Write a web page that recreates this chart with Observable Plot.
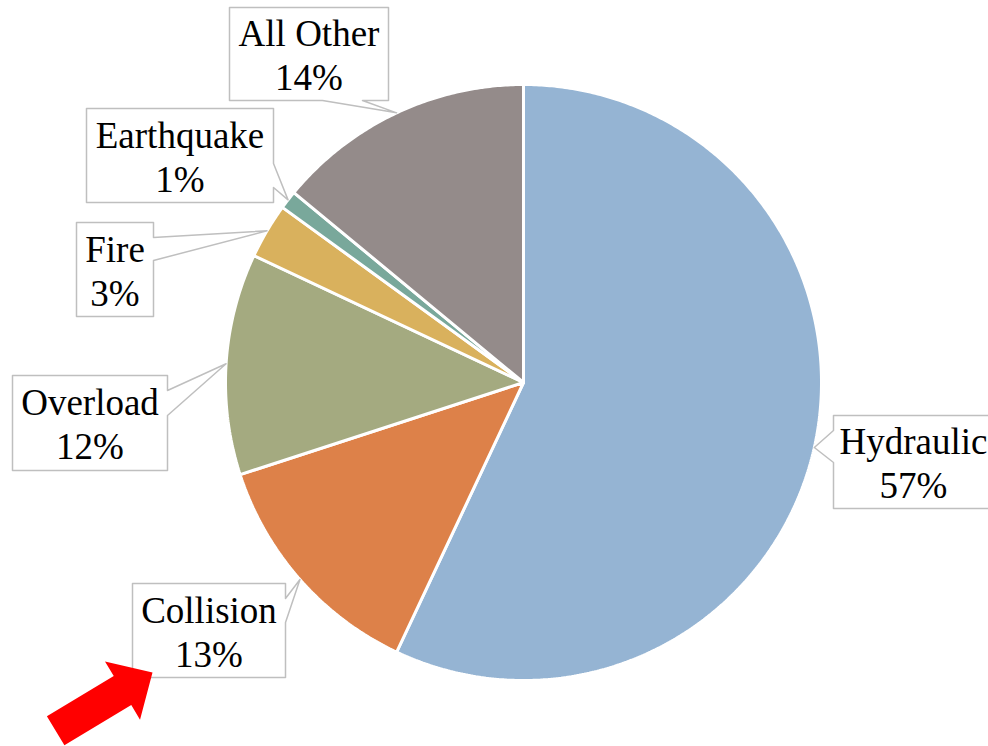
<!DOCTYPE html>
<html><head><meta charset="utf-8">
<script src="https://cdn.jsdelivr.net/npm/d3@7"></script>
<script src="https://cdn.jsdelivr.net/npm/@observablehq/plot@0.6"></script>
<style>html,body{margin:0;padding:0;background:#fff;overflow:hidden}</style>
</head><body><div id="chart"></div>
<script>
// ---- data ----
const categories = ["Hydraulic", "Collision", "Overload", "Fire", "Earthquake", "All Other"];
const values = [57, 13, 12, 3, 1, 14];
const colors = ["#95B4D3", "#DD8149", "#A4AA80", "#D9B15D", "#79A89B", "#948B8A"];

// ---- layout ----
const W = 988, H = 746;
const cx = 523, cy = 382, R = 298;
const labelBoxes = [
  {x0: 833, y0: 415, x1: 1000, y1: 508, side: "left", a: 430, b: 462},
  {x0: 132, y0: 583, x1: 285, y1: 677, side: "right", a: 598, b: 622},
  {x0: 12, y0: 375, x1: 167, y1: 470, side: "right", a: 390, b: 415},
  {x0: 76, y0: 222, x1: 153, y1: 316, side: "right", a: 237, b: 260},
  {x0: 86, y0: 108, x1: 273, y1: 202, side: "right", a: 163, b: 187},
  {x0: 229, y0: 7, x1: 388, y1: 100, side: "bottom", a: 362, b: 322}
];

// ---- geometry from data ----
const total = d3.sum(values);
const polar = (frac, r) => {
  const t = frac * 2 * Math.PI;
  return [cx + r * Math.sin(t), cy - r * Math.cos(t)];
};
let acc = 0;
const slicePts = [];
const tips = [];
categories.forEach((c, i) => {
  const f0 = acc / total, f1 = (acc + values[i]) / total;
  acc += values[i];
  const pts = [[cx, cy]];
  const n = Math.max(4, Math.ceil((f1 - f0) * 720));
  for (let k = 0; k <= n; k++) pts.push(polar(f0 + (f1 - f0) * k / n, R));
  pts.push([cx, cy]);
  pts.forEach(([x, y], k) => slicePts.push({cat: c, x, y, k}));
  tips.push(polar((f0 + f1) / 2, R));
});

const boxPts = [];
const labels = [];
labelBoxes.forEach((b, i) => {
  const t = tips[i];
  let p;
  if (b.side === "right")
    p = [[b.x0,b.y0],[b.x1,b.y0],[b.x1,b.a],t,[b.x1,b.b],[b.x1,b.y1],[b.x0,b.y1],[b.x0,b.y0]];
  else if (b.side === "left")
    p = [[b.x0,b.y0],[b.x1,b.y0],[b.x1,b.y1],[b.x0,b.y1],[b.x0,b.b],t,[b.x0,b.a],[b.x0,b.y0]];
  else
    p = [[b.x0,b.y0],[b.x1,b.y0],[b.x1,b.y1],[b.a,b.y1],t,[b.b,b.y1],[b.x0,b.y1],[b.x0,b.y0]];
  p.forEach(([x, y]) => boxPts.push({cat: categories[i], x, y}));
  const xc = b.side === "left" ? b.x0 + 80 : (b.x0 + b.x1) / 2;
  labels.push({x: xc, y: (b.y0 + b.y1) / 2, text: `${categories[i]}\n${values[i]}%`});
});

// red arrow pointing at the Collision label
const tip = [152, 672], ang = Math.atan2(-58, 96.5);
const u = [Math.cos(ang), Math.sin(ang)], nn = [-u[1], u[0]];
const P = (a, b) => ({x: tip[0] + a * u[0] + b * nn[0], y: tip[1] + a * u[1] + b * nn[1]});
const arrow = [P(0,0), P(-35,34), P(-35,17), P(-113,17), P(-113,-17), P(-35,-17), P(-35,-34), P(0,0)];

const chart = Plot.plot({
  width: W, height: H,
  margin: 0,
  x: {domain: [0, W], range: [0, W], axis: null},
  y: {domain: [0, H], range: [0, H], axis: null},
  color: {domain: categories, range: colors},
  style: {background: "#fff"},
  marks: [
    Plot.line(slicePts, {x: "x", y: "y", z: "cat", fill: "cat", stroke: "#fff", strokeWidth: 3, strokeLinejoin: "miter", curve: "linear"}),
    Plot.line(boxPts, {x: "x", y: "y", z: "cat", fill: "#fff", stroke: "#BFBFBF", strokeWidth: 1.5, curve: "linear"}),
    Plot.text(labels, {x: "x", y: "y", text: "text", fontSize: 37, lineHeight: 1.19, fontFamily: "Liberation Serif", fill: "#000", textAnchor: "middle", lineAnchor: "middle"}),
    Plot.line(arrow, {x: "x", y: "y", fill: "#FF0000", stroke: "none", curve: "linear"})
  ]
});
document.getElementById("chart").appendChild(chart);
</script>
</body></html>
